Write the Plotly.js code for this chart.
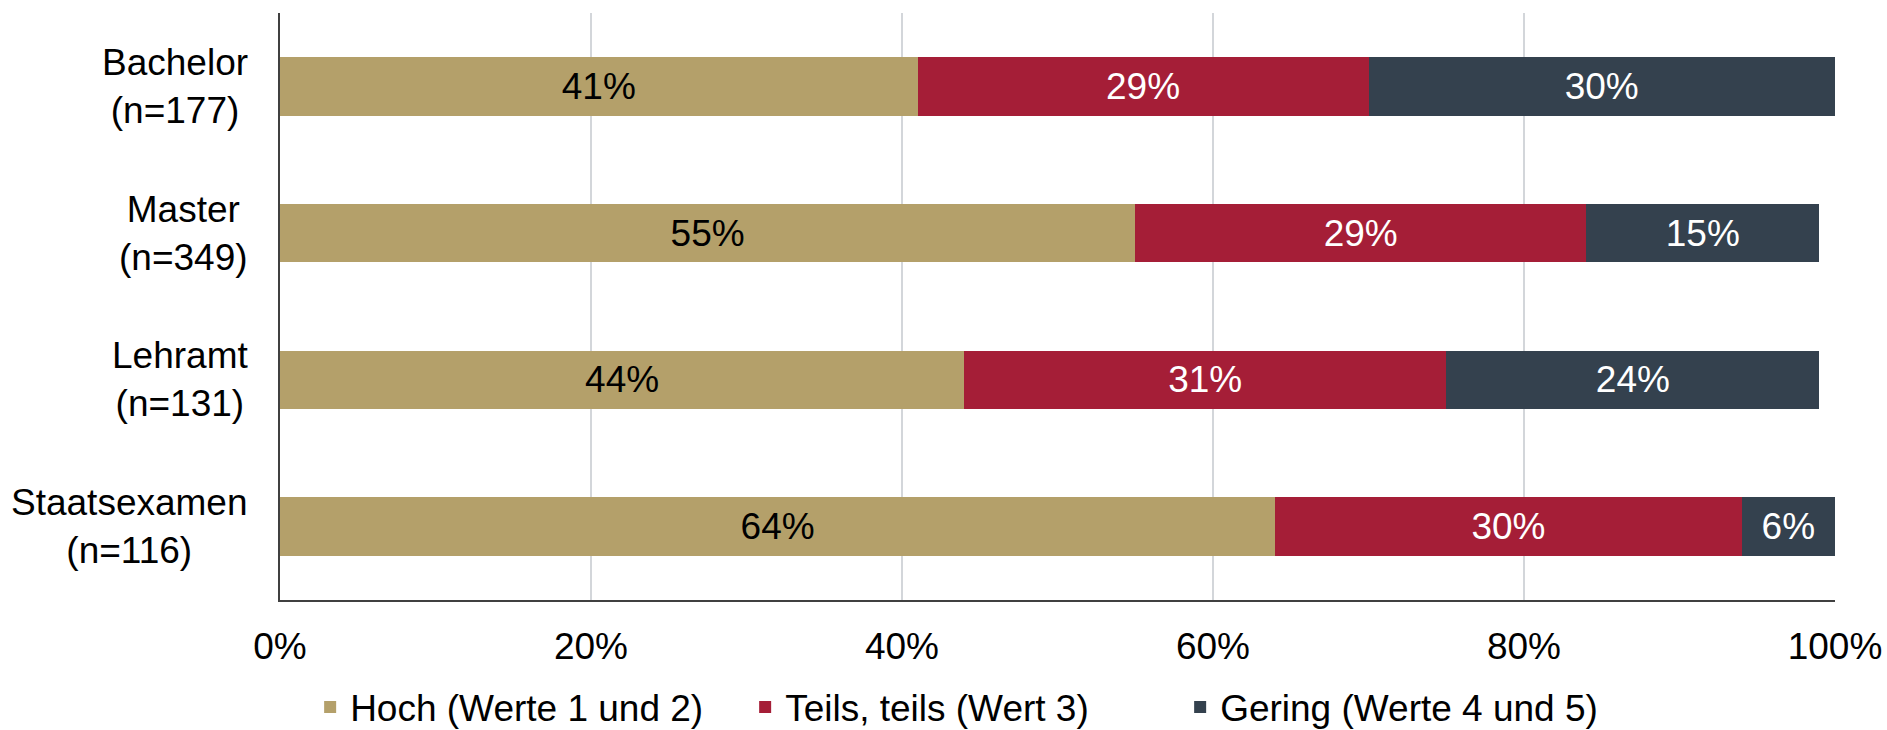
<!DOCTYPE html>
<html>
<head>
<meta charset="utf-8">
<script src="https://cdn.plot.ly/plotly-3.0.1.min.js"></script>
<style>
  html, body { margin: 0; padding: 0; background: #fff; }
  #chart { width: 1887px; height: 730px; }
</style>
</head>
<body>
<div id="chart"></div>
<script>
// categories (top to bottom) and their sample sizes
var categories = ['Bachelor', 'Master', 'Lehramt', 'Staatsexamen'];
var sampleSizes = ['n=177', 'n=349', 'n=131', 'n=116'];

// shares in percent
var hoch = [41, 55, 44, 64];
var teils = [29, 29, 31, 30];
var gering = [30, 15, 24, 6];

var seriesNames = ['Hoch (Werte 1 und 2)', 'Teils, teils (Wert 3)', 'Gering (Werte 4 und 5)'];
var seriesColors = ['#B4A06A', '#A51E37', '#34414E'];
var labelColors = ['#000000', '#ffffff', '#ffffff'];

var font = 'Liberation Sans, Arial, sans-serif';
var fs = 37;

function makeTrace(values, i) {
  return {
    type: 'bar',
    orientation: 'h',
    name: seriesNames[i],
    x: values,
    y: categories,
    marker: { color: seriesColors[i], line: { width: 0 } },
    texttemplate: '%{x}%',
    textposition: 'inside',
    insidetextanchor: 'middle',
    textangle: 0,
    textfont: { family: font, size: fs, color: labelColors[i] },
    hoverinfo: 'skip'
  };
}

var data = [makeTrace(hoch, 0), makeTrace(teils, 1), makeTrace(gering, 2)];

// category labels, centred on two lines, placed at the category positions
var annotations = categories.map(function (c, i) {
  return {
    xref: 'paper', yref: 'y',
    x: 0, y: c,
    xanchor: 'right', yanchor: 'middle',
    xshift: -30,
    align: 'center',
    showarrow: false,
    text: c + '<br>(' + sampleSizes[i] + ')',
    font: { family: font, size: fs, color: '#000' }
  };
});

var layout = {
  width: 1887,
  height: 730,
  margin: { l: 280, r: 52, t: 13, b: 130, autoexpand: false },
  paper_bgcolor: '#fff',
  plot_bgcolor: '#fff',
  barmode: 'stack',
  bargap: 0.6,
  font: { family: font, size: fs, color: '#000' },
  showlegend: true,
  legend: {
    orientation: 'h',
    x: 0.439, xanchor: 'center',
    y: -0.183, yanchor: 'middle',
    font: { family: font, size: fs, color: '#000' },
    traceorder: 'normal',
    entrywidth: 390,
    itemclick: false
  },
  xaxis: {
    range: [0, 100],
    tickvals: [0, 20, 40, 60, 80, 100],
    ticktext: ['0%', '20%', '40%', '60%', '80%', '100%'],
    showgrid: true,
    gridcolor: '#D3D6DA',
    gridwidth: 2,
    zeroline: false,
    showline: true,
    linecolor: '#404040',
    linewidth: 2,
    ticks: '',
    ticklabelstandoff: 13,
    tickfont: { family: font, size: fs, color: '#000' },
    fixedrange: true
  },
  yaxis: {
    categoryorder: 'array',
    categoryarray: categories,
    autorange: 'reversed',
    showticklabels: false,
    showgrid: false,
    zeroline: false,
    showline: true,
    linecolor: '#404040',
    linewidth: 2,
    ticks: '',
    fixedrange: true
  },
  annotations: annotations
};

Plotly.newPlot('chart', data, layout, { displayModeBar: false, staticPlot: true });
</script>
</body>
</html>
